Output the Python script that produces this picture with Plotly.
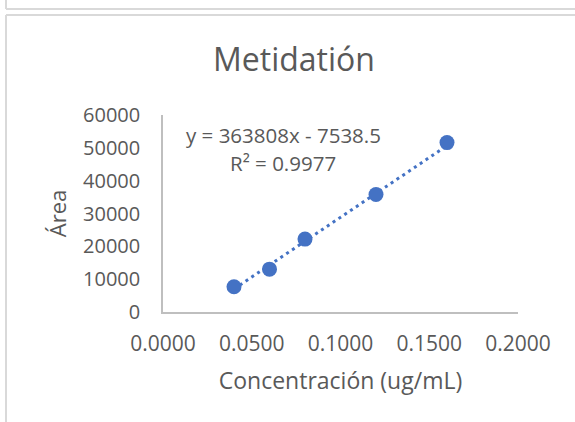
import plotly.graph_objects as go

# Data
concentracion = [0.04, 0.06, 0.08, 0.12, 0.16]
area = [7700, 13050, 22200, 35800, 51600]
slope = 363808
intercept = -7538.5
r2 = 0.9977
x_ticks = [0.0, 0.05, 0.10, 0.15, 0.20]
x_tick_labels = ["0.0000", "0.0500", "0.1000", "0.1500", "0.2000"]
y_ticks = [0, 10000, 20000, 30000, 40000, 50000, 60000]
y_tick_labels = ["0", "10000", "20000", "30000", "40000", "50000", "60000"]

FONT = "Open Sans"
GREY = "#595959"
BLUE = "#4472C4"

trend_x = [min(concentracion), max(concentracion)]
trend_y = [slope * v + intercept for v in trend_x]

fig = go.Figure()
fig.add_trace(go.Scatter(
    x=trend_x, y=trend_y, mode="lines",
    line=dict(color=BLUE, width=3, dash="3px,4px"),
    hoverinfo="skip", showlegend=False))
fig.add_trace(go.Scatter(
    x=concentracion, y=area, mode="markers",
    marker=dict(color=BLUE, size=15, line=dict(width=0)),
    showlegend=False))

W, H = 575, 422
L, R, T, B = 163, 57, 115, 110
pw, ph = W - L - R, H - T - B

def px(x):
    return (x - L) / pw

def py(y):
    return (H - B - y) / ph

border = dict(color="#D9D9D9", width=2)
shapes = [
    dict(type="line", xref="paper", yref="paper", x0=px(6), x1=px(6), y0=py(-2), y1=py(9), line=border),
    dict(type="line", xref="paper", yref="paper", x0=px(6), x1=px(580), y0=py(9), y1=py(9), line=border),
    dict(type="line", xref="paper", yref="paper", x0=px(6), x1=px(6), y0=py(15), y1=py(430), line=border),
    dict(type="line", xref="paper", yref="paper", x0=px(6), x1=px(580), y0=py(15), y1=py(15), line=border),
]

fig.update_layout(
    width=W, height=H,
    margin=dict(l=L, r=R, t=T, b=B),
    paper_bgcolor="white", plot_bgcolor="white",
    font=dict(family=FONT, color=GREY, size=20),
    title=dict(text="Metidatión", x=294 / W, xanchor="center",
               y=1 - 60 / H, yanchor="middle", yref="container",
               font=dict(family=FONT, size=32, color=GREY)),
    xaxis=dict(range=[0, 0.2], tickvals=x_ticks, ticktext=x_tick_labels,
               showgrid=False, zeroline=False, showline=True,
               linecolor="#BFBFBF", linewidth=1.5, ticks="",
               ticklabelstandoff=12,
               tickfont=dict(size=21, color=GREY),
               title=dict(text="Concentración (ug/mL)", standoff=17,
                          font=dict(size=23, color=GREY))),
    yaxis=dict(range=[0, 60000], tickvals=y_ticks, ticktext=y_tick_labels,
               showgrid=False, zeroline=False, showline=True,
               linecolor="#BFBFBF", linewidth=1.5, ticks="",
               ticklabelstandoff=17,
               tickfont=dict(size=20, color=GREY),
               title=dict(text="Área", standoff=10,
                          font=dict(size=22, color=GREY))),
    shapes=shapes,
    annotations=[
        dict(text=f"y = {slope}x - {abs(intercept)}", xref="paper", yref="paper",
             x=px(283), y=py(135), xanchor="center", yanchor="middle",
             showarrow=False, font=dict(size=20.5, color=GREY)),
        dict(text=f"R² = {r2}", xref="paper", yref="paper",
             x=px(283), y=py(163), xanchor="center", yanchor="middle",
             showarrow=False, font=dict(size=20.5, color=GREY)),
    ],
)

fig.write_html("out.html", config={"displayModeBar": False},
               post_script="document.body.style.margin='0';document.body.style.overflow='hidden';")
